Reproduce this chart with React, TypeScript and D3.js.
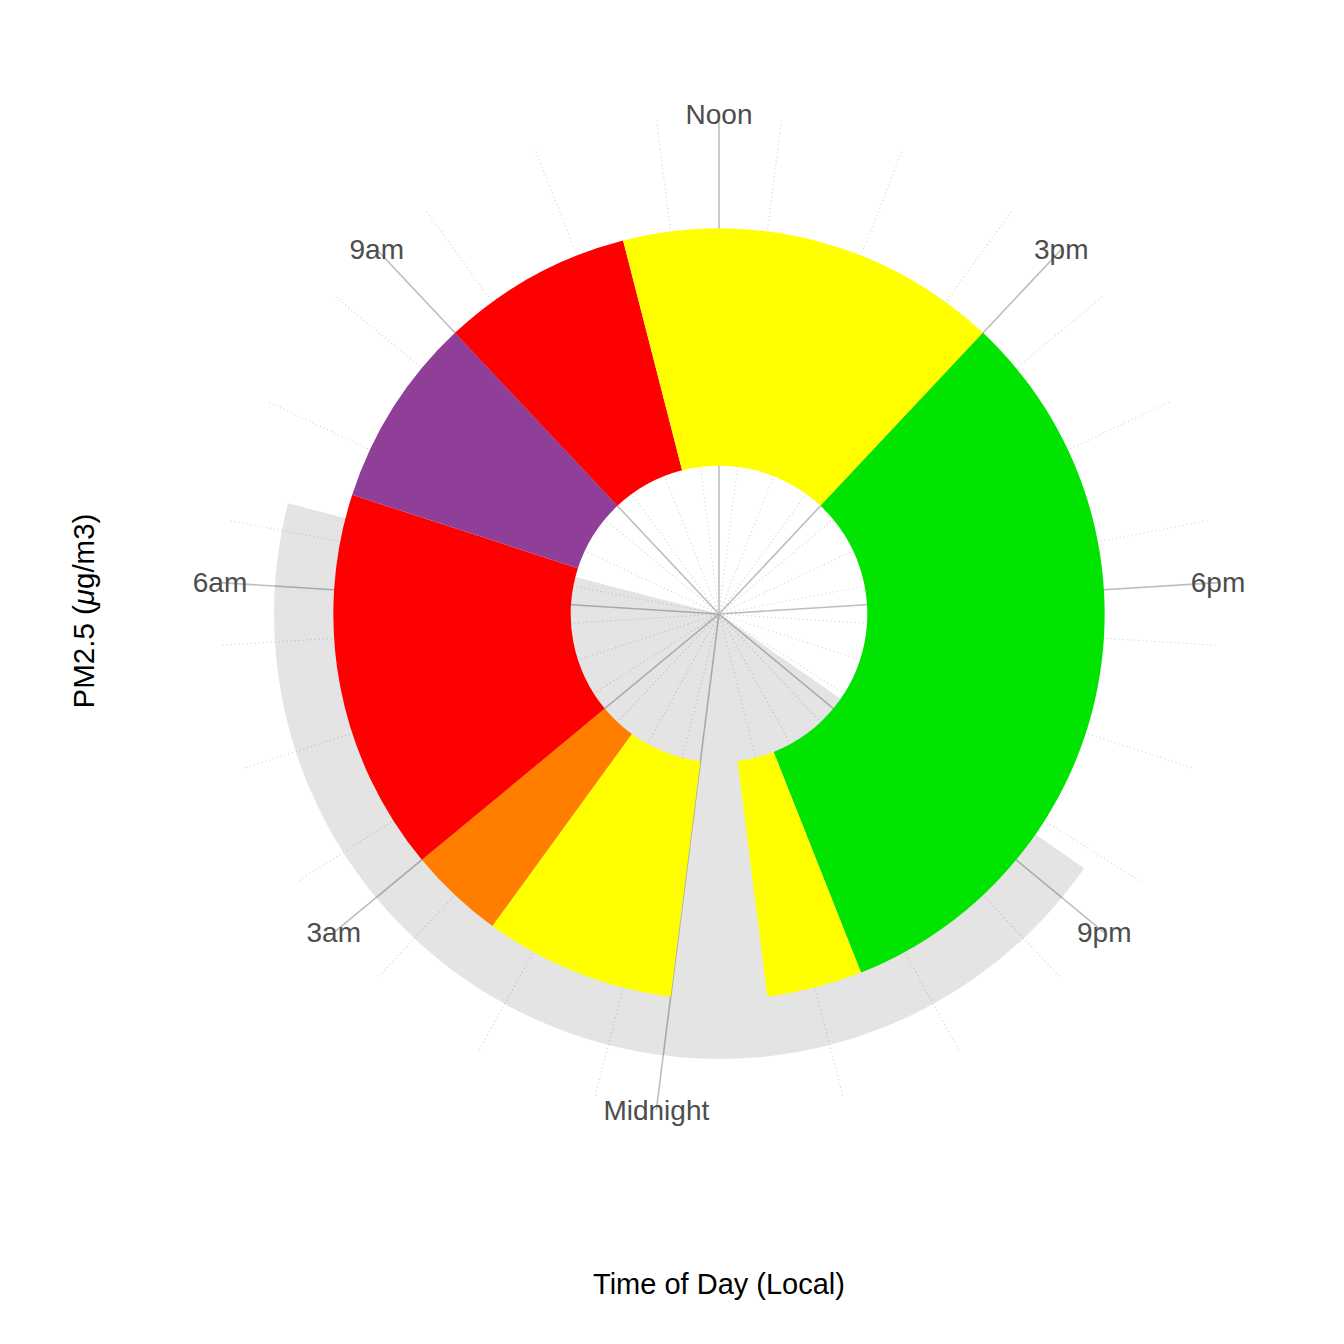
import React from 'react';
import * as d3 from 'd3';

// AQI category for each hour of the day (0 = midnight)
const hours = [0, 1, 2, 3, 4, 5, 6, 7, 8, 9, 10, 11, 12, 13, 14, 15, 16, 17, 18, 19, 20, 21, 22, 23];
const hourCategory = [
  'Moderate', 'Moderate', 'USG', 'Unhealthy', 'Unhealthy', 'Unhealthy', 'Unhealthy',
  'Very Unhealthy', 'Very Unhealthy', 'Unhealthy', 'Unhealthy',
  'Moderate', 'Moderate', 'Moderate', 'Moderate',
  'Good', 'Good', 'Good', 'Good', 'Good', 'Good', 'Good', 'Good',
  'Moderate'
];
const categories = ['Good', 'Moderate', 'USG', 'Unhealthy', 'Very Unhealthy', 'Hazardous'];
const categoryColors = ['#00E400', '#FFFF00', '#FF7E00', '#FF0000', '#8F3F97', '#7E0023'];

// radial extent of the hourly bars and the night shading
const barBottom = 0.5;
const barTop = 1.3;
const radialMax = 1.5;
const sunset = 20.67;
const sunrise = 6.75;

// theta axis
const xDomain = [-0.5, 24.5];
const majorBreaks = [0, 3, 6, 9, 12, 15, 18, 21];
const majorLabels = ['Midnight', '3am', '6am', '9am', 'Noon', '3pm', '6pm', '9pm'];
const minorBreaks = [0.5, 1.5, 2.5, 3.5, 4.5, 5.5, 6.5, 7.5, 8.5, 9.5, 10.5, 11.5,
  12.5, 13.5, 14.5, 15.5, 16.5, 17.5, 18.5, 19.5, 20.5, 21.5, 22.5, 23.5];

const W = 1344;
const H = 1344;
const cx = 719;
const cy = 614;
const gridR = 500;
const font = '"Liberation Sans", Arial, Helvetica, sans-serif';

export default function App() {
  const theta = d3.scaleLinear().domain(xDomain).range([Math.PI, 3 * Math.PI]);
  const r = d3.scaleLinear().domain([0, radialMax]).range([0, 445]);
  const color = d3.scaleOrdinal<string, string>().domain(categories).range(categoryColors);

  // join neighbouring hours of the same category so no seams show between them
  const runs: { start: number; end: number; cat: string }[] = [];
  hours.forEach((h, i) => {
    const last = runs[runs.length - 1];
    if (last && last.cat === hourCategory[i] && last.end === h) last.end = h + 1;
    else runs.push({ start: h, end: h + 1, cat: hourCategory[i] });
  });

  const barArc = d3.arc<{ start: number; end: number }>()
    .innerRadius(r(barBottom))
    .outerRadius(r(barTop))
    .startAngle(d => theta(d.start))
    .endAngle(d => theta(d.end));

  const nightArc = d3.arc()({
    innerRadius: 0,
    outerRadius: r(radialMax),
    startAngle: theta(sunset),
    endAngle: theta(sunrise) + 2 * Math.PI
  } as any) as string;

  // polar helpers (angle clockwise from 12 o'clock)
  const px = (a: number, rad: number) => rad * Math.sin(a);
  const py = (a: number, rad: number) => -rad * Math.cos(a);

  return (
    <svg width={W} height={H} style={{ position: 'absolute', left: 0, top: 0, background: '#fff' }}
      fontFamily={font}>
      <g transform={`translate(${cx},${cy})`}>
        {/* minor theta grid */}
        {minorBreaks.map(b => (
          <line key={'mi' + b} x1={0} y1={0} x2={px(theta(b), gridR)} y2={py(theta(b), gridR)}
            stroke="#D6D6D6" strokeWidth={1.1} strokeDasharray="1.2 2.8" />
        ))}
        {/* major theta grid */}
        {majorBreaks.map(b => (
          <line key={'ma' + b} x1={0} y1={0} x2={px(theta(b), gridR)} y2={py(theta(b), gridR)}
            stroke="#BEBEBE" strokeWidth={1.6} />
        ))}
        {/* night shading */}
        <path d={nightArc} fill="#000" fillOpacity={0.105} />
        {/* hourly bars */}
        {runs.map(d => (
          <path key={'b' + d.start} d={barArc(d) as string} fill={color(d.cat)} />
        ))}
        {/* theta labels */}
        {majorBreaks.map((b, i) => (
          <text key={'l' + b} x={px(theta(b), gridR)} y={py(theta(b), gridR)}
            textAnchor="middle" dominantBaseline="central" fontSize={28} fill="#4D4D4D">
            {majorLabels[i]}
          </text>
        ))}
      </g>
      <text x={cx} y={1284} textAnchor="middle" dominantBaseline="central" fontSize={29} fill="#000">
        Time of Day (Local)
      </text>
      <text transform={`translate(83,${cy - 3}) rotate(-90)`} textAnchor="middle" dominantBaseline="central"
        fontSize={29.5} fill="#000">
        PM2.5 (<tspan fontStyle="italic">μ</tspan>g/m3)
      </text>
    </svg>
  );
}
